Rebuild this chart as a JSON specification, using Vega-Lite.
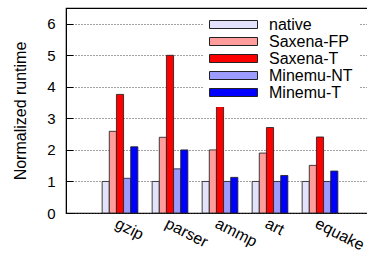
{
  "$schema": "https://vega.github.io/schema/vega-lite/v6.json",
  "width": 308,
  "height": 205,
  "padding": {"left": 12, "top": 8, "right": 0, "bottom": 0},
  "config": {
    "font": "Liberation Sans",
    "view": {"stroke": "black", "strokeWidth": 1.2}
  },
  "data": {
    "values": [
      {"bench": "gzip", "config": "native", "runtime": 1.0},
      {"bench": "gzip", "config": "Saxena-FP", "runtime": 2.59},
      {"bench": "gzip", "config": "Saxena-T", "runtime": 3.76},
      {"bench": "gzip", "config": "Minemu-NT", "runtime": 1.1},
      {"bench": "gzip", "config": "Minemu-T", "runtime": 2.1},
      {"bench": "parser", "config": "native", "runtime": 1.0},
      {"bench": "parser", "config": "Saxena-FP", "runtime": 2.4},
      {"bench": "parser", "config": "Saxena-T", "runtime": 5.0},
      {"bench": "parser", "config": "Minemu-NT", "runtime": 1.4},
      {"bench": "parser", "config": "Minemu-T", "runtime": 2.0},
      {"bench": "ammp", "config": "native", "runtime": 1.0},
      {"bench": "ammp", "config": "Saxena-FP", "runtime": 2.0},
      {"bench": "ammp", "config": "Saxena-T", "runtime": 3.41},
      {"bench": "ammp", "config": "Minemu-NT", "runtime": 1.0},
      {"bench": "ammp", "config": "Minemu-T", "runtime": 1.13},
      {"bench": "art", "config": "native", "runtime": 1.0},
      {"bench": "art", "config": "Saxena-FP", "runtime": 1.9},
      {"bench": "art", "config": "Saxena-T", "runtime": 2.71},
      {"bench": "art", "config": "Minemu-NT", "runtime": 1.0},
      {"bench": "art", "config": "Minemu-T", "runtime": 1.19},
      {"bench": "equake", "config": "native", "runtime": 1.0},
      {"bench": "equake", "config": "Saxena-FP", "runtime": 1.51},
      {"bench": "equake", "config": "Saxena-T", "runtime": 2.41},
      {"bench": "equake", "config": "Minemu-NT", "runtime": 1.0},
      {"bench": "equake", "config": "Minemu-T", "runtime": 1.33}
    ]
  },
  "mark": {"type": "bar", "stroke": "#222", "strokeWidth": 1, "strokeOpacity": 0.85},
  "encoding": {
    "x": {
      "field": "bench",
      "type": "nominal",
      "sort": ["gzip", "parser", "ammp", "art", "equake"],
      "scale": {"paddingInner": 0, "paddingOuter": 0.58},
      "axis": {
        "title": null,
        "ticks": false,
        "domain": false,
        "labelAngle": 27,
        "labelAlign": "left",
        "labelBaseline": "top",
        "labelFontSize": 16,
        "labelColor": "black",
        "labelPadding": 2,
        "labelDx": -2
      }
    },
    "xOffset": {
      "field": "config",
      "sort": ["native", "Saxena-FP", "Saxena-T", "Minemu-NT", "Minemu-T"],
      "scale": {"paddingInner": 0, "paddingOuter": 1.07}
    },
    "y": {
      "field": "runtime",
      "type": "quantitative",
      "scale": {"domain": [0, 6.5], "nice": false},
      "axis": {
        "values": [0, 1, 2, 3, 4, 5, 6],
        "title": "Normalized runtime",
        "titleFontSize": 16,
        "titleFontWeight": "normal",
        "titleColor": "black",
        "titlePadding": 18,
        "labelFontSize": 15,
        "labelColor": "black",
        "labelPadding": 18,
        "tickSize": -7,
        "tickColor": "black",
        "domainColor": "black",
        "grid": true,
        "gridDash": [1, 2],
        "gridColor": "#444",
        "gridWidth": 1
      }
    },
    "color": {
      "field": "config",
      "type": "nominal",
      "scale": {
        "domain": ["native", "Saxena-FP", "Saxena-T", "Minemu-NT", "Minemu-T"],
        "range": ["#e2e2fa", "#ff9c9c", "#ff0000", "#9c9cff", "#0000ff"]
      },
      "legend": {
        "title": null,
        "orient": "none",
        "legendX": 137,
        "legendY": 2,
        "padding": 6,
        "fillColor": "white",
        "symbolType": "M-1,-0.5H5V0.5H-1Z",
        "symbolSize": 256,
        "symbolStrokeColor": "#222",
        "symbolStrokeWidth": 1,
        "symbolOpacity": 1,
        "labelFontSize": 16,
        "labelColor": "black",
        "labelOffset": 43,
        "rowPadding": 0,
        "labelLimit": 200
      }
    }
  }
}
